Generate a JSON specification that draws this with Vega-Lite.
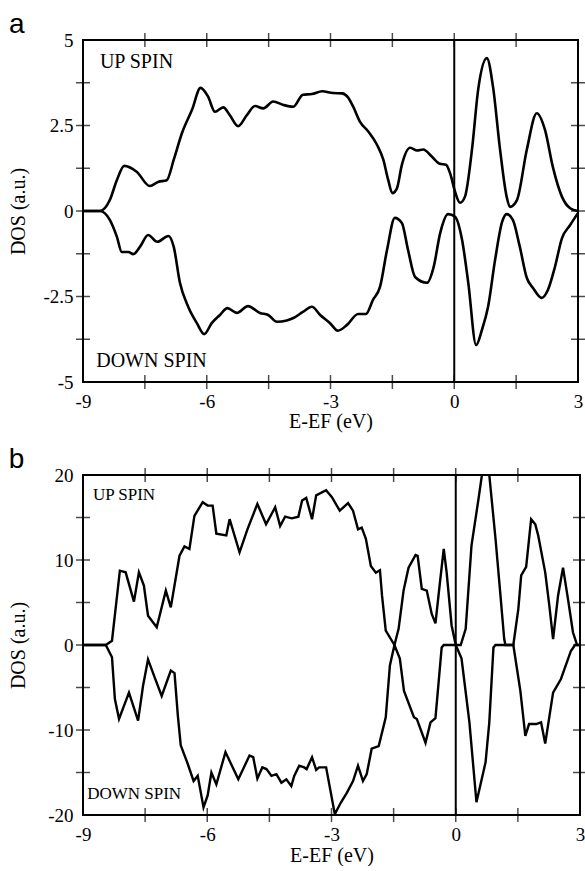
{
  "$schema": "https://vega.github.io/schema/vega-lite/v6.json",
  "background": "white",
  "padding": {"left": 7, "top": 10, "right": 2, "bottom": 0},
  "spacing": 13,
  "config": {
    "view": {"stroke": "black", "strokeWidth": 2},
    "font": "Liberation Serif",
    "axis": {
      "grid": false,
      "domain": false,
      "ticks": false,
      "labelPadding": 10,
      "labelFont": "Liberation Serif",
      "labelFontSize": 19,
      "labelColor": "black",
      "titleFont": "Liberation Serif",
      "titleFontSize": 20,
      "titleFontWeight": "normal",
      "titleColor": "black",
      "labelFlush": false,
      "labelOverlap": false
    },
    "tick": {"color": "black", "thickness": 1.5, "size": 14, "clip": true},
    "title": {"font": "Liberation Sans", "fontSize": 28, "fontWeight": "normal", "color": "black", "anchor": "start", "frame": "bounds"}
  },
  "datasets": {
    "a_up": [
      {"E": -9.0, "DOS": 0}, {"E": -8.59, "DOS": 0}, {"E": -8.35, "DOS": 0.32}, {"E": -8.18, "DOS": 0.9},
      {"E": -8.0, "DOS": 1.32}, {"E": -7.7, "DOS": 1.15}, {"E": -7.38, "DOS": 0.73}, {"E": -7.18, "DOS": 0.85},
      {"E": -6.97, "DOS": 0.9}, {"E": -6.8, "DOS": 1.5}, {"E": -6.6, "DOS": 2.28}, {"E": -6.36, "DOS": 2.95},
      {"E": -6.15, "DOS": 3.6}, {"E": -5.97, "DOS": 3.35}, {"E": -5.8, "DOS": 2.9}, {"E": -5.6, "DOS": 3.03},
      {"E": -5.44, "DOS": 2.8}, {"E": -5.24, "DOS": 2.48}, {"E": -5.03, "DOS": 2.8}, {"E": -4.83, "DOS": 3.07},
      {"E": -4.63, "DOS": 3.0}, {"E": -4.39, "DOS": 3.2}, {"E": -4.14, "DOS": 3.1}, {"E": -3.9, "DOS": 3.05},
      {"E": -3.67, "DOS": 3.4}, {"E": -3.45, "DOS": 3.42}, {"E": -3.2, "DOS": 3.5}, {"E": -2.94, "DOS": 3.45},
      {"E": -2.72, "DOS": 3.44}, {"E": -2.58, "DOS": 3.33}, {"E": -2.45, "DOS": 3.05}, {"E": -2.28, "DOS": 2.6},
      {"E": -2.08, "DOS": 2.32}, {"E": -1.87, "DOS": 1.93}, {"E": -1.72, "DOS": 1.5}, {"E": -1.6, "DOS": 0.9},
      {"E": -1.5, "DOS": 0.52}, {"E": -1.39, "DOS": 0.66}, {"E": -1.27, "DOS": 1.35}, {"E": -1.07, "DOS": 1.85},
      {"E": -0.9, "DOS": 1.77}, {"E": -0.75, "DOS": 1.8}, {"E": -0.55, "DOS": 1.6}, {"E": -0.35, "DOS": 1.38},
      {"E": -0.2, "DOS": 1.35}, {"E": -0.1, "DOS": 1.1}, {"E": 0.03, "DOS": 0.52}, {"E": 0.14, "DOS": 0.24},
      {"E": 0.26, "DOS": 0.42}, {"E": 0.43, "DOS": 1.8}, {"E": 0.58, "DOS": 3.55}, {"E": 0.79, "DOS": 4.47},
      {"E": 0.94, "DOS": 3.63}, {"E": 1.11, "DOS": 1.8}, {"E": 1.27, "DOS": 0.42}, {"E": 1.35, "DOS": 0.12},
      {"E": 1.52, "DOS": 0.32}, {"E": 1.76, "DOS": 1.8}, {"E": 2.0, "DOS": 2.86}, {"E": 2.2, "DOS": 2.37},
      {"E": 2.39, "DOS": 1.29}, {"E": 2.61, "DOS": 0.42}, {"E": 2.81, "DOS": 0.08}, {"E": 3.0, "DOS": 0}
    ],
    "a_down": [
      {"E": -9.0, "DOS": 0}, {"E": -8.59, "DOS": 0}, {"E": -8.35, "DOS": -0.26}, {"E": -8.18, "DOS": -0.75},
      {"E": -8.06, "DOS": -1.2}, {"E": -7.9, "DOS": -1.2}, {"E": -7.78, "DOS": -1.26}, {"E": -7.62, "DOS": -1.05},
      {"E": -7.42, "DOS": -0.7}, {"E": -7.2, "DOS": -0.9}, {"E": -6.93, "DOS": -0.73}, {"E": -6.8, "DOS": -1.05},
      {"E": -6.65, "DOS": -2.1}, {"E": -6.45, "DOS": -2.8}, {"E": -6.24, "DOS": -3.28}, {"E": -6.06, "DOS": -3.6},
      {"E": -5.88, "DOS": -3.28}, {"E": -5.68, "DOS": -3.04}, {"E": -5.5, "DOS": -2.84}, {"E": -5.27, "DOS": -2.98},
      {"E": -5.0, "DOS": -2.78}, {"E": -4.71, "DOS": -2.98}, {"E": -4.51, "DOS": -3.04}, {"E": -4.3, "DOS": -3.24},
      {"E": -4.06, "DOS": -3.2}, {"E": -3.9, "DOS": -3.13}, {"E": -3.67, "DOS": -2.95}, {"E": -3.45, "DOS": -2.8},
      {"E": -3.25, "DOS": -3.04}, {"E": -3.01, "DOS": -3.28}, {"E": -2.82, "DOS": -3.5}, {"E": -2.6, "DOS": -3.33},
      {"E": -2.33, "DOS": -3.01}, {"E": -2.14, "DOS": -3.01}, {"E": -1.97, "DOS": -2.6}, {"E": -1.8, "DOS": -2.22},
      {"E": -1.63, "DOS": -1.14}, {"E": -1.44, "DOS": -0.2}, {"E": -1.27, "DOS": -0.35}, {"E": -1.12, "DOS": -1.14},
      {"E": -0.95, "DOS": -1.93}, {"E": -0.66, "DOS": -2.1}, {"E": -0.5, "DOS": -1.64}, {"E": -0.34, "DOS": -0.64},
      {"E": -0.15, "DOS": -0.09}, {"E": 0.02, "DOS": -0.17}, {"E": 0.19, "DOS": -0.85}, {"E": 0.34, "DOS": -2.1},
      {"E": 0.53, "DOS": -3.92}, {"E": 0.67, "DOS": -3.48}, {"E": 0.82, "DOS": -2.8}, {"E": 0.99, "DOS": -1.43},
      {"E": 1.16, "DOS": -0.32}, {"E": 1.27, "DOS": -0.09}, {"E": 1.42, "DOS": -0.26}, {"E": 1.59, "DOS": -1.05},
      {"E": 1.76, "DOS": -1.96}, {"E": 1.91, "DOS": -2.25}, {"E": 2.12, "DOS": -2.54}, {"E": 2.27, "DOS": -2.31},
      {"E": 2.44, "DOS": -1.64}, {"E": 2.61, "DOS": -0.8}, {"E": 2.81, "DOS": -0.41}, {"E": 3.0, "DOS": -0.06}
    ],
    "b_up": [
      {"E": -9.0, "DOS": 0}, {"E": -8.45, "DOS": 0}, {"E": -8.3, "DOS": 0.5}, {"E": -8.11, "DOS": 8.74},
      {"E": -7.97, "DOS": 8.55}, {"E": -7.77, "DOS": 5.1}, {"E": -7.65, "DOS": 8.55}, {"E": -7.53, "DOS": 7.0},
      {"E": -7.43, "DOS": 3.45}, {"E": -7.22, "DOS": 2.08}, {"E": -7.0, "DOS": 6.4}, {"E": -6.88, "DOS": 4.43},
      {"E": -6.67, "DOS": 10.5}, {"E": -6.55, "DOS": 11.6}, {"E": -6.43, "DOS": 11.3}, {"E": -6.31, "DOS": 15.2},
      {"E": -6.11, "DOS": 16.8}, {"E": -5.99, "DOS": 16.4}, {"E": -5.87, "DOS": 16.4}, {"E": -5.78, "DOS": 13.1},
      {"E": -5.54, "DOS": 12.9}, {"E": -5.46, "DOS": 14.8}, {"E": -5.22, "DOS": 10.9}, {"E": -5.03, "DOS": 13.6},
      {"E": -4.79, "DOS": 16.6}, {"E": -4.58, "DOS": 14.2}, {"E": -4.36, "DOS": 16.2}, {"E": -4.24, "DOS": 14.0},
      {"E": -4.12, "DOS": 15.1}, {"E": -3.96, "DOS": 14.9}, {"E": -3.8, "DOS": 15.1}, {"E": -3.71, "DOS": 17.0},
      {"E": -3.61, "DOS": 17.3}, {"E": -3.47, "DOS": 14.8}, {"E": -3.37, "DOS": 17.6}, {"E": -3.13, "DOS": 18.2},
      {"E": -2.99, "DOS": 17.4}, {"E": -2.8, "DOS": 15.8}, {"E": -2.6, "DOS": 16.7}, {"E": -2.48, "DOS": 15.8},
      {"E": -2.36, "DOS": 13.6}, {"E": -2.27, "DOS": 13.8}, {"E": -2.17, "DOS": 12.5}, {"E": -2.05, "DOS": 9.3},
      {"E": -1.93, "DOS": 8.5}, {"E": -1.83, "DOS": 8.8}, {"E": -1.78, "DOS": 5.8}, {"E": -1.69, "DOS": 1.7},
      {"E": -1.48, "DOS": 0}, {"E": -1.38, "DOS": 1.9}, {"E": -1.26, "DOS": 6.4}, {"E": -1.14, "DOS": 9.1},
      {"E": -0.97, "DOS": 10.6}, {"E": -0.92, "DOS": 10.5}, {"E": -0.82, "DOS": 6.6}, {"E": -0.7, "DOS": 6.4},
      {"E": -0.58, "DOS": 3.65}, {"E": -0.49, "DOS": 2.55}, {"E": -0.39, "DOS": 7.0}, {"E": -0.29, "DOS": 11.3},
      {"E": -0.22, "DOS": 8.55}, {"E": -0.1, "DOS": 2.3}, {"E": 0.0, "DOS": 0}, {"E": 0.12, "DOS": 0},
      {"E": 0.24, "DOS": 1.9}, {"E": 0.38, "DOS": 11.7}, {"E": 0.55, "DOS": 17.2}, {"E": 0.72, "DOS": 23.0},
      {"E": 0.81, "DOS": 20.0}, {"E": 0.96, "DOS": 12.5}, {"E": 1.08, "DOS": 5.8}, {"E": 1.17, "DOS": 0.7},
      {"E": 1.2, "DOS": 0}, {"E": 1.39, "DOS": 0}, {"E": 1.51, "DOS": 4.2}, {"E": 1.58, "DOS": 8.2},
      {"E": 1.7, "DOS": 9.2}, {"E": 1.82, "DOS": 14.8}, {"E": 1.92, "DOS": 14.2}, {"E": 1.99, "DOS": 12.9},
      {"E": 2.16, "DOS": 8.55}, {"E": 2.26, "DOS": 4.6}, {"E": 2.35, "DOS": 0.7}, {"E": 2.47, "DOS": 5.8},
      {"E": 2.59, "DOS": 9.1}, {"E": 2.71, "DOS": 5.4}, {"E": 2.83, "DOS": 1.5}, {"E": 2.93, "DOS": 0},
      {"E": 3.0, "DOS": 0}
    ],
    "b_down": [
      {"E": -9.0, "DOS": 0}, {"E": -8.45, "DOS": 0}, {"E": -8.3, "DOS": -1.45}, {"E": -8.23, "DOS": -6.35},
      {"E": -8.13, "DOS": -8.7}, {"E": -7.89, "DOS": -5.6}, {"E": -7.67, "DOS": -8.9}, {"E": -7.55, "DOS": -4.8},
      {"E": -7.43, "DOS": -1.7}, {"E": -7.27, "DOS": -3.8}, {"E": -7.1, "DOS": -6.0}, {"E": -6.88, "DOS": -3.0},
      {"E": -6.79, "DOS": -3.3}, {"E": -6.71, "DOS": -8.3}, {"E": -6.64, "DOS": -11.8}, {"E": -6.47, "DOS": -14.0},
      {"E": -6.33, "DOS": -16.0}, {"E": -6.23, "DOS": -15.4}, {"E": -6.09, "DOS": -19.1}, {"E": -5.99, "DOS": -17.7},
      {"E": -5.9, "DOS": -15.0}, {"E": -5.78, "DOS": -16.4}, {"E": -5.56, "DOS": -12.6}, {"E": -5.25, "DOS": -15.8},
      {"E": -4.98, "DOS": -13.0}, {"E": -4.89, "DOS": -13.2}, {"E": -4.79, "DOS": -15.7}, {"E": -4.67, "DOS": -14.4},
      {"E": -4.57, "DOS": -14.6}, {"E": -4.45, "DOS": -15.4}, {"E": -4.33, "DOS": -15.2}, {"E": -4.21, "DOS": -16.2},
      {"E": -4.09, "DOS": -15.8}, {"E": -3.97, "DOS": -16.6}, {"E": -3.9, "DOS": -15.4}, {"E": -3.78, "DOS": -14.2},
      {"E": -3.66, "DOS": -14.4}, {"E": -3.6, "DOS": -14.6}, {"E": -3.47, "DOS": -13.2}, {"E": -3.37, "DOS": -14.7},
      {"E": -3.3, "DOS": -14.4}, {"E": -3.13, "DOS": -14.4}, {"E": -2.92, "DOS": -19.9}, {"E": -2.77, "DOS": -18.5},
      {"E": -2.63, "DOS": -17.4}, {"E": -2.48, "DOS": -16.0}, {"E": -2.36, "DOS": -14.2}, {"E": -2.24, "DOS": -16.0},
      {"E": -2.15, "DOS": -15.2}, {"E": -2.03, "DOS": -12.2}, {"E": -1.86, "DOS": -11.9}, {"E": -1.69, "DOS": -8.5},
      {"E": -1.59, "DOS": -2.4}, {"E": -1.48, "DOS": 0}, {"E": -1.35, "DOS": -1.6}, {"E": -1.25, "DOS": -5.4},
      {"E": -1.01, "DOS": -8.5}, {"E": -0.94, "DOS": -8.7}, {"E": -0.73, "DOS": -11.5}, {"E": -0.61, "DOS": -9.1},
      {"E": -0.49, "DOS": -8.6}, {"E": -0.34, "DOS": -0.3}, {"E": -0.29, "DOS": 0}, {"E": 0.0, "DOS": 0},
      {"E": 0.14, "DOS": -1.6}, {"E": 0.33, "DOS": -9.1}, {"E": 0.5, "DOS": -18.5}, {"E": 0.72, "DOS": -13.8},
      {"E": 0.81, "DOS": -9.1}, {"E": 0.91, "DOS": -0.3}, {"E": 0.96, "DOS": 0}, {"E": 1.39, "DOS": 0},
      {"E": 1.56, "DOS": -5.4}, {"E": 1.68, "DOS": -10.7}, {"E": 1.77, "DOS": -9.3}, {"E": 1.94, "DOS": -9.3},
      {"E": 2.06, "DOS": -9.1}, {"E": 2.16, "DOS": -11.6}, {"E": 2.35, "DOS": -5.6}, {"E": 2.54, "DOS": -4.0},
      {"E": 2.78, "DOS": -0.7}, {"E": 2.88, "DOS": 0}, {"E": 3.0, "DOS": 0}
    ],
    "a_xticks": [
      {"E": -7.5, "DOS": 5}, {"E": -6, "DOS": 5}, {"E": -4.5, "DOS": 5}, {"E": -3, "DOS": 5}, {"E": -1.5, "DOS": 5}, {"E": 0, "DOS": 5}, {"E": 1.5, "DOS": 5},
      {"E": -7.5, "DOS": -5}, {"E": -6, "DOS": -5}, {"E": -4.5, "DOS": -5}, {"E": -3, "DOS": -5}, {"E": -1.5, "DOS": -5}, {"E": 0, "DOS": -5}, {"E": 1.5, "DOS": -5}
    ],
    "a_yticks": [
      {"E": -9, "DOS": -3.75}, {"E": -9, "DOS": -2.5}, {"E": -9, "DOS": -1.25}, {"E": -9, "DOS": 0}, {"E": -9, "DOS": 1.25}, {"E": -9, "DOS": 2.5}, {"E": -9, "DOS": 3.75},
      {"E": 3, "DOS": -3.75}, {"E": 3, "DOS": -2.5}, {"E": 3, "DOS": -1.25}, {"E": 3, "DOS": 0}, {"E": 3, "DOS": 1.25}, {"E": 3, "DOS": 2.5}, {"E": 3, "DOS": 3.75}
    ],
    "b_xticks": [
      {"E": -7.5, "DOS": 20}, {"E": -6, "DOS": 20}, {"E": -4.5, "DOS": 20}, {"E": -3, "DOS": 20}, {"E": -1.5, "DOS": 20}, {"E": 0, "DOS": 20}, {"E": 1.5, "DOS": 20},
      {"E": -7.5, "DOS": -20}, {"E": -6, "DOS": -20}, {"E": -4.5, "DOS": -20}, {"E": -3, "DOS": -20}, {"E": -1.5, "DOS": -20}, {"E": 0, "DOS": -20}, {"E": 1.5, "DOS": -20}
    ],
    "b_yticks": [
      {"E": -9, "DOS": -15}, {"E": -9, "DOS": -10}, {"E": -9, "DOS": -5}, {"E": -9, "DOS": 0}, {"E": -9, "DOS": 5}, {"E": -9, "DOS": 10}, {"E": -9, "DOS": 15},
      {"E": 3, "DOS": -15}, {"E": 3, "DOS": -10}, {"E": 3, "DOS": -5}, {"E": 3, "DOS": 0}, {"E": 3, "DOS": 5}, {"E": 3, "DOS": 10}, {"E": 3, "DOS": 15}
    ]
  },
  "vconcat": [
    {
      "width": 495,
      "height": 342,
      "title": {"text": "a", "offset": -8},
      "layer": [
        {
          "data": {"name": "a_up"},
          "mark": {"type": "line", "interpolate": "monotone", "color": "black", "strokeWidth": 2.6},
          "encoding": {
            "x": {"field": "E", "type": "quantitative", "scale": {"domain": [-9, 3], "nice": false, "zero": false},
              "axis": {"orient": "bottom", "values": [-9, -6, -3, 0, 3], "labelExpr": "'' + datum.value", "title": "E-EF (eV)", "titlePadding": 0}},
            "y": {"field": "DOS", "type": "quantitative", "scale": {"domain": [-5, 5], "nice": false, "zero": false},
              "axis": {"orient": "left", "values": [-5, -2.5, 0, 2.5, 5], "labelExpr": "'' + datum.value", "title": "DOS (a.u.)", "titlePadding": 14}}
          }
        },
        {
          "data": {"name": "a_down"},
          "mark": {"type": "line", "interpolate": "monotone", "color": "black", "strokeWidth": 2.6},
          "encoding": {
            "x": {"field": "E", "type": "quantitative"},
            "y": {"field": "DOS", "type": "quantitative"}
          }
        },
        {
          "data": {"name": "a_xticks"},
          "mark": {"type": "tick", "orient": "vertical"},
          "encoding": {
            "x": {"field": "E", "type": "quantitative"},
            "y": {"field": "DOS", "type": "quantitative"}
          }
        },
        {
          "data": {"name": "a_yticks"},
          "mark": {"type": "tick", "orient": "horizontal"},
          "encoding": {
            "x": {"field": "E", "type": "quantitative"},
            "y": {"field": "DOS", "type": "quantitative"}
          }
        },
        {
          "data": {"values": [{"E": 0}]},
          "mark": {"type": "rule", "color": "black", "strokeWidth": 2},
          "encoding": {
            "x": {"field": "E", "type": "quantitative"}
          }
        },
        {
          "data": {"values": [{"E": -8.59, "DOS": 4.17, "label": "UP SPIN"}, {"E": -8.68, "DOS": -4.55, "label": "DOWN SPIN"}]},
          "mark": {"type": "text", "align": "left", "baseline": "alphabetic", "font": "Liberation Serif", "fontSize": 20, "color": "black"},
          "encoding": {
            "x": {"field": "E", "type": "quantitative"},
            "y": {"field": "DOS", "type": "quantitative"},
            "text": {"field": "label"}
          }
        }
      ]
    },
    {
      "width": 497,
      "height": 340,
      "title": {"text": "b", "offset": -8},
      "layer": [
        {
          "data": {"name": "b_up"},
          "mark": {"type": "line", "color": "black", "strokeWidth": 2.4, "clip": true},
          "encoding": {
            "x": {"field": "E", "type": "quantitative", "scale": {"domain": [-9, 3], "nice": false, "zero": false},
              "axis": {"orient": "bottom", "values": [-9, -6, -3, 0, 3], "labelExpr": "'' + datum.value", "title": "E-EF (eV)", "titlePadding": 1}},
            "y": {"field": "DOS", "type": "quantitative", "scale": {"domain": [-20, 20], "nice": false, "zero": false},
              "axis": {"orient": "left", "values": [-20, -10, 0, 10, 20], "labelExpr": "'' + datum.value", "title": "DOS (a.u.)", "titlePadding": 19}}
          }
        },
        {
          "data": {"name": "b_down"},
          "mark": {"type": "line", "color": "black", "strokeWidth": 2.4, "clip": true},
          "encoding": {
            "x": {"field": "E", "type": "quantitative"},
            "y": {"field": "DOS", "type": "quantitative"}
          }
        },
        {
          "data": {"name": "b_xticks"},
          "mark": {"type": "tick", "orient": "vertical"},
          "encoding": {
            "x": {"field": "E", "type": "quantitative"},
            "y": {"field": "DOS", "type": "quantitative"}
          }
        },
        {
          "data": {"name": "b_yticks"},
          "mark": {"type": "tick", "orient": "horizontal"},
          "encoding": {
            "x": {"field": "E", "type": "quantitative"},
            "y": {"field": "DOS", "type": "quantitative"}
          }
        },
        {
          "data": {"values": [{"E": 0}]},
          "mark": {"type": "rule", "color": "black", "strokeWidth": 2},
          "encoding": {
            "x": {"field": "E", "type": "quantitative"}
          }
        },
        {
          "data": {"values": [{"E": -8.76, "DOS": 17.06, "label": "UP SPIN"}, {"E": -8.9, "DOS": -18.1, "label": "DOWN SPIN"}]},
          "mark": {"type": "text", "align": "left", "baseline": "alphabetic", "font": "Liberation Serif", "fontSize": 17, "color": "black"},
          "encoding": {
            "x": {"field": "E", "type": "quantitative"},
            "y": {"field": "DOS", "type": "quantitative"},
            "text": {"field": "label"}
          }
        }
      ]
    }
  ]
}
